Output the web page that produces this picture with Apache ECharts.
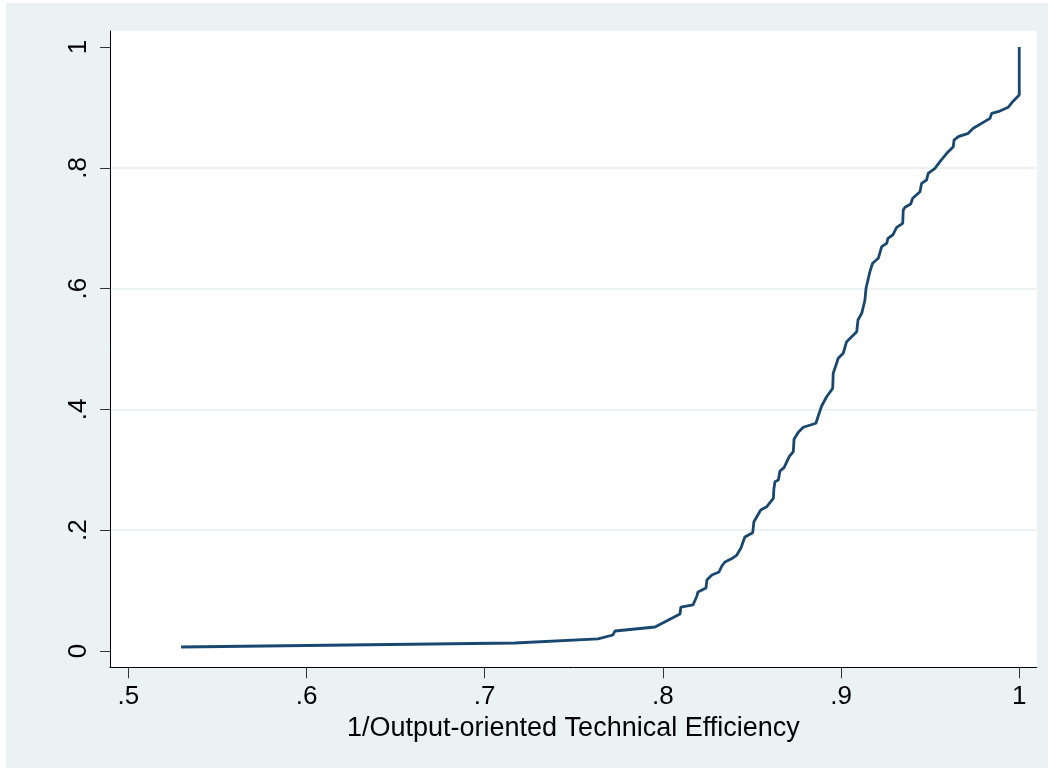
<!DOCTYPE html>
<html>
<head>
<meta charset="utf-8">
<script src="https://cdn.jsdelivr.net/npm/echarts@6/dist/echarts.min.js"></script>
<style>
  html, body { margin: 0; padding: 0; background: #ffffff; }
  #bg { position: absolute; left: 6px; top: 3px; width: 1042px; height: 765px; background: #EAF2F3; }
  #chart { position: absolute; left: 0; top: 0; width: 1054px; height: 771px; }
</style>
</head>
<body>
<div id="bg"></div>
<div id="chart"></div>
<script>
// Efficiency values (x) and cumulative share (y)
const efficiency = [
  0.5296, 0.7170, 0.7636, 0.7720, 0.7731, 0.7956, 0.8096, 0.8101, 0.8169, 0.8191,
  0.8197, 0.8242, 0.8247, 0.8275, 0.8315, 0.8331, 0.8348, 0.8393, 0.8415, 0.8438,
  0.8460, 0.8504, 0.8511, 0.8549, 0.8583, 0.8620, 0.8623, 0.8629, 0.8648, 0.8657,
  0.8680, 0.8709, 0.8732, 0.8736, 0.8760, 0.8788, 0.8859, 0.8872, 0.8891, 0.8919,
  0.8953, 0.8956, 0.8975, 0.8984, 0.9012, 0.9031, 0.9088, 0.9095, 0.9116, 0.9134,
  0.9140, 0.9162, 0.9177, 0.9209, 0.9228, 0.9256, 0.9263, 0.9290, 0.9312, 0.9346,
  0.9349, 0.9359, 0.9391, 0.9402, 0.9443, 0.9452, 0.9480, 0.9489, 0.9527, 0.9555,
  0.9593, 0.9630, 0.9634, 0.9658, 0.9714, 0.9742, 0.9836, 0.9845, 0.9882, 0.9938,
  0.9963, 1.0000, 1.0000
];
const cumShare = [
  0.0066, 0.0132, 0.0199, 0.0265, 0.0331, 0.0397, 0.0613, 0.0728, 0.0762, 0.0911,
  0.0977, 0.1043, 0.1175, 0.1258, 0.1308, 0.1407, 0.1474, 0.1540, 0.1589, 0.1705,
  0.1887, 0.1959, 0.2141, 0.2334, 0.2389, 0.2528, 0.2682, 0.2803, 0.2831, 0.2980,
  0.3035, 0.3217, 0.3300, 0.3505, 0.3621, 0.3704, 0.3770, 0.3891, 0.4056, 0.4210,
  0.4349, 0.4598, 0.4763, 0.4846, 0.4929, 0.5121, 0.5286, 0.5480, 0.5591, 0.5811,
  0.6005, 0.6280, 0.6419, 0.6502, 0.6694, 0.6750, 0.6833, 0.6887, 0.7015, 0.7081,
  0.7301, 0.7346, 0.7401, 0.7495, 0.7604, 0.7743, 0.7798, 0.7909, 0.7992, 0.8101,
  0.8240, 0.8349, 0.8460, 0.8515, 0.8571, 0.8654, 0.8819, 0.8902, 0.8929, 0.9002,
  0.9094, 0.9205, 1.0000
];
const xTicks = [0.5, 0.6, 0.7, 0.8, 0.9, 1];
const yTicks = [0, 0.2, 0.4, 0.6, 0.8, 1];
const xTitle = '1/Output-oriented Technical Efficiency';

const fmt = v => {
  const s = String(v);
  return s.startsWith('0.') ? s.slice(1) : s;
};

const chart = echarts.init(document.getElementById('chart'), null, { renderer: 'canvas' });
const font = '"Liberation Sans", Arial, sans-serif';
chart.setOption({
  animation: false,
  backgroundColor: 'transparent',
  grid: {
    left: 110, right: 17.3, top: 31, bottom: 103.7,
    show: true, backgroundColor: '#ffffff', borderWidth: 0
  },
  xAxis: {
    type: 'value',
    min: 0.4897, max: 1.0098,
    name: xTitle,
    nameLocation: 'middle',
    nameGap: 41,
    nameTextStyle: { fontFamily: font, fontSize: 27, color: '#000' },
    axisLine: { show: true, onZero: false, lineStyle: { color: '#000', width: 1 } },
    axisTick: { show: true, length: 11, customValues: xTicks, lineStyle: { color: '#333', width: 1 } },
    axisLabel: { customValues: xTicks, formatter: fmt, margin: 17, fontFamily: font, fontSize: 26, color: '#000' },
    splitLine: { show: false }
  },
  yAxis: {
    type: 'value',
    min: -0.027, max: 1.0265,
    axisLine: { show: true, onZero: false, lineStyle: { color: '#000', width: 1 } },
    axisTick: { show: true, length: 10, customValues: yTicks, lineStyle: { color: '#333', width: 1 } },
    axisLabel: { customValues: yTicks, formatter: fmt, rotate: 90, margin: 18, fontFamily: font, fontSize: 26, color: '#000' },
    splitLine: { show: true, showMinLine: false, showMaxLine: false, lineStyle: { color: '#EAF2F3', width: 2 } }
  },
  series: [{
    type: 'line',
    data: efficiency.map((x, i) => [x, cumShare[i]]),
    showSymbol: false,
    symbol: 'none',
    lineStyle: { color: '#1A476F', width: 2.8 },
    z: 3
  }]
});
</script>
</body>
</html>
